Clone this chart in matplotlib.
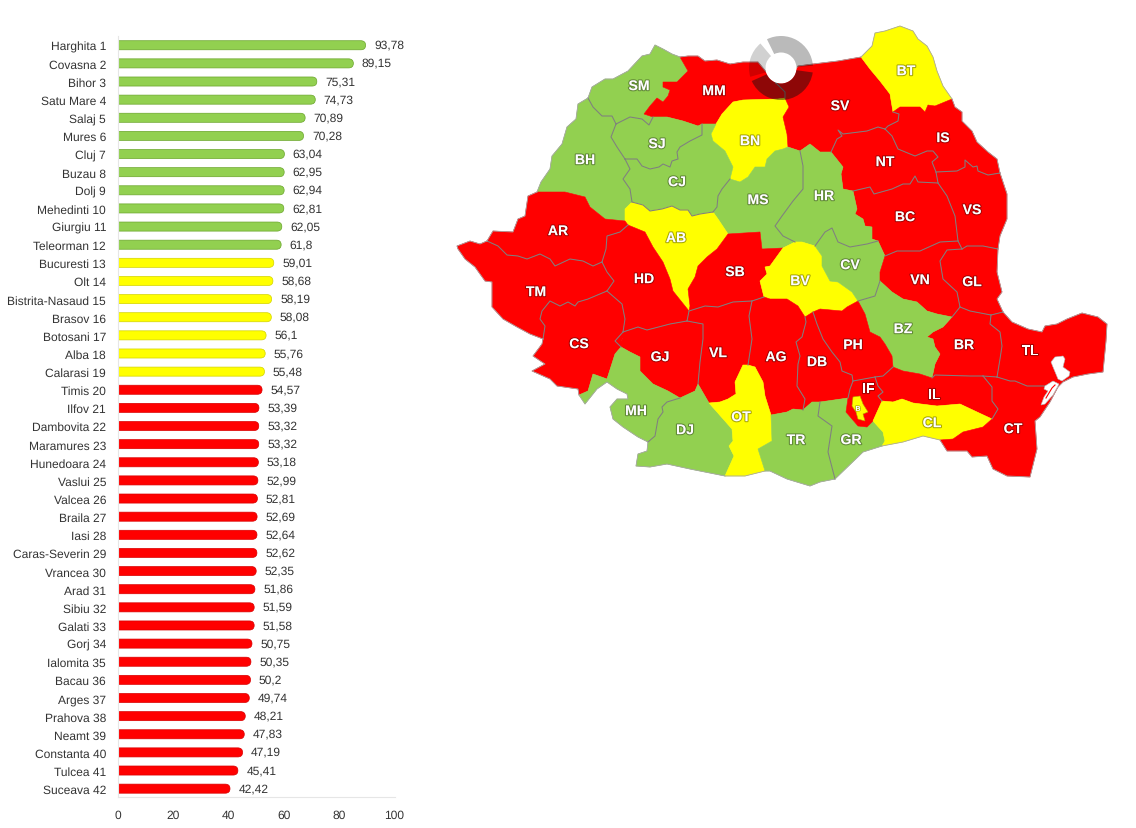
import numpy as np
import matplotlib.pyplot as plt
import matplotlib.patheffects as pe
from matplotlib.patches import Circle, PathPatch, Polygon, Wedge
from matplotlib.path import Path

plt.rcParams['font.family'] = ['Liberation Sans', 'DejaVu Sans']
plt.rcParams['text.hinting'] = 'no_hinting'

W, H = 1136, 829

# ranking
counties = ['Harghita', 'Covasna', 'Bihor', 'Satu Mare', 'Salaj', 'Mures', 'Cluj', 'Buzau', 'Dolj',
            'Mehedinti', 'Giurgiu', 'Teleorman', 'Bucuresti', 'Olt', 'Bistrita-Nasaud', 'Brasov',
            'Botosani', 'Alba', 'Calarasi', 'Timis', 'Ilfov', 'Dambovita', 'Maramures', 'Hunedoara',
            'Vaslui', 'Valcea', 'Braila', 'Iasi', 'Caras-Severin', 'Vrancea', 'Arad', 'Sibiu', 'Galati',
            'Gorj', 'Ialomita', 'Bacau', 'Arges', 'Prahova', 'Neamt', 'Constanta', 'Tulcea', 'Suceava']
scores = [93.78, 89.15, 75.31, 74.73, 70.89, 70.28, 63.04, 62.95, 62.94, 62.81, 62.05, 61.8,
          59.01, 58.68, 58.19, 58.08, 56.1, 55.76, 55.48, 54.57, 53.39, 53.32, 53.32, 53.18,
          52.99, 52.81, 52.69, 52.64, 52.62, 52.35, 51.86, 51.59, 51.58, 50.75, 50.35, 50.2,
          49.74, 48.21, 47.83, 47.19, 45.41, 42.42]
tick_values = [0, 20, 40, 60, 80, 100]

GREEN, YELLOW, RED = '#92d050', '#ffff00', '#ff0000'
bar_edges = {GREEN: '#6aa52a', YELLOW: '#d2d200', RED: '#d80000'}

# county codes per map colour
green_codes = ['SM', 'BH', 'SJ', 'CJ', 'MS', 'HR', 'CV', 'BZ', 'MH', 'DJ', 'TR', 'GR']
yellow_codes = ['BT', 'BN', 'AB', 'BV', 'OT', 'CL']
red_codes = ['MM', 'SV', 'IS', 'NT', 'BC', 'VS', 'AR', 'TM', 'HD', 'SB', 'CS', 'GJ', 'VL', 'AG', 'DB',
             'PH', 'VN', 'GL', 'BR', 'TL', 'IF', 'IL', 'CT']

# county borders, each one stored once and shared by its two neighbours (o_ = outer frontier)
borders = dict(
    o_sm=[(588, 99), (592, 88), (605, 80), (613, 80), (628, 72), (642, 57), (650, 55), (655, 46), (663, 50), (672, 55), (680, 58)],
    sm_mm=[(680, 58), (688, 72), (683, 77), (677, 83), (663, 83), (663, 88), (670, 91), (668, 97), (663, 103), (657, 99), (650, 107), (644, 115), (653, 118)],
    sm_sj=[(616, 125), (630, 118), (642, 120), (649, 126), (653, 118)],
    sm_bh=[(588, 99), (593, 108), (602, 117), (612, 117), (616, 125)],
    o_mm=[(680, 58), (688, 57), (698, 57), (705, 62), (717, 61), (730, 65), (743, 63), (758, 63), (768, 75), (776, 84)],
    mm_sv=[(776, 84), (785, 93), (785, 99)],
    mm_bn=[(785, 99), (778, 100), (743, 101), (733, 103), (722, 115), (716, 125)],
    mm_cj=[(716, 125), (702, 125)],
    mm_sj=[(702, 125), (698, 127), (683, 122), (667, 118), (653, 118)],
    bn_sv=[(785, 99), (789, 108), (783, 118), (787, 135), (788, 148)],
    bn_ms=[(788, 148), (783, 150), (775, 152), (767, 160), (765, 168), (755, 168), (748, 178), (740, 183), (730, 180)],
    bn_cj=[(730, 180), (733, 168), (729, 160), (725, 152), (713, 142), (711, 135), (716, 125)],
    o_sv=[(776, 84), (790, 78), (798, 67), (813, 65), (838, 62), (861, 58)],
    sv_bt=[(861, 58), (870, 70), (880, 82), (890, 95), (892, 107), (893, 113)],
    sv_is=[(893, 113), (899, 115), (898, 122), (888, 127), (885, 130)],
    sv_nt=[(885, 130), (878, 128), (867, 132), (843, 135), (838, 131), (842, 137), (837, 140), (831, 153)],
    sv_hr=[(831, 153), (820, 153), (810, 145), (800, 152)],
    sv_ms=[(800, 152), (788, 148)],
    o_bt=[(861, 58), (872, 47), (875, 34), (885, 32), (900, 27), (913, 32), (918, 40), (927, 47), (933, 58), (937, 72), (943, 87), (952, 100)],
    bt_is=[(952, 100), (935, 107), (928, 106), (925, 113), (920, 108), (900, 108), (893, 113)],
    o_is=[(952, 100), (955, 108), (962, 113), (962, 122), (972, 132), (977, 143), (988, 153), (997, 160), (1000, 174)],
    is_vs=[(1000, 174), (988, 176), (978, 172), (977, 167), (973, 168), (965, 161), (965, 168), (957, 172), (936, 173)],
    is_nt=[(936, 173), (932, 163), (938, 158), (933, 152), (927, 152), (915, 157), (898, 150), (892, 137), (885, 130)],
    nt_vs=[(936, 173), (938, 184)],
    nt_bc=[(938, 184), (918, 183), (915, 177), (910, 185), (903, 185), (892, 190), (874, 195), (870, 188), (853, 192)],
    nt_hr=[(853, 192), (843, 190), (841, 175), (843, 168), (831, 153)],
    o_vs=[(1000, 174), (1007, 195), (1007, 220), (1000, 237), (998, 250)],
    vs_gl=[(998, 250), (983, 247), (967, 247), (962, 250)],
    vs_vn=[(962, 250), (958, 242)],
    vs_bc=[(958, 242), (955, 217), (947, 197), (938, 184)],
    bc_vn=[(958, 242), (940, 243), (920, 252), (897, 252), (885, 257)],
    bc_cv=[(885, 257), (878, 242)],
    bc_hr=[(878, 242), (872, 240), (872, 228), (865, 227), (863, 220), (855, 215), (857, 210), (853, 192)],
    hr_cv=[(878, 242), (867, 245), (850, 248), (838, 243), (832, 229), (825, 233), (815, 247)],
    hr_bv=[(815, 247), (802, 243), (795, 243)],
    hr_ms=[(795, 243), (783, 237), (775, 227), (782, 217), (793, 202), (803, 190), (803, 167), (800, 152)],
    ms_bv=[(795, 243), (783, 249)],
    ms_sb=[(783, 249), (762, 250), (760, 233), (728, 235)],
    ms_ab=[(728, 235), (718, 220), (713, 213)],
    ms_cj=[(713, 213), (717, 208), (718, 197), (722, 190), (730, 180)],
    cj_ab=[(713, 213), (700, 215), (692, 217), (688, 211), (680, 211), (672, 207), (662, 210), (650, 212), (643, 206), (632, 203)],
    cj_bh=[(632, 203), (630, 190), (623, 180), (630, 170), (625, 160)],
    cj_sj=[(625, 160), (637, 160), (642, 167), (650, 170), (659, 168), (663, 165), (670, 168), (672, 162), (678, 160), (677, 153), (680, 148), (690, 142), (702, 136), (702, 125)],
    sj_bh=[(625, 160), (617, 148), (611, 138), (616, 125)],
    bh_ab=[(632, 203), (625, 210), (625, 222)],
    bh_ar=[(625, 222), (605, 220), (590, 208), (585, 198), (565, 193), (537, 193)],
    o_bh=[(537, 193), (541, 183), (550, 170), (552, 157), (562, 145), (567, 128), (576, 120), (578, 105), (588, 99)],
    ab_sb=[(728, 235), (717, 250), (707, 258), (698, 267), (695, 278), (688, 290), (690, 307), (689, 312)],
    ab_hd=[(689, 312), (673, 292), (670, 280), (663, 263), (653, 248), (645, 233), (628, 226)],
    ab_ar=[(628, 226), (625, 222)],
    ar_hd=[(628, 226), (620, 233), (607, 237), (606, 250), (602, 263)],
    ar_tm=[(602, 263), (593, 267), (583, 262), (570, 260), (555, 267), (550, 260), (540, 255), (527, 260), (518, 257), (507, 256), (498, 247), (487, 242)],
    o_ar=[(487, 242), (493, 232), (513, 233), (518, 220), (525, 217), (528, 197), (537, 193)],
    hd_vl=[(689, 312), (687, 322)],
    hd_gj=[(687, 322), (670, 325), (647, 331), (638, 328), (623, 333)],
    hd_cs=[(623, 333), (625, 320), (622, 305), (607, 292)],
    hd_tm=[(607, 292), (614, 282), (607, 273), (602, 263)],
    sb_bv=[(783, 249), (770, 267), (765, 268), (767, 275), (760, 282), (764, 298)],
    sb_ag=[(764, 298), (752, 302)],
    sb_vl=[(752, 302), (733, 303), (718, 308), (705, 307), (689, 312)],
    bv_cv=[(815, 247), (822, 257), (822, 267), (830, 282), (838, 283), (852, 293), (858, 302)],
    bv_ph=[(858, 302), (847, 308), (842, 312), (820, 310), (813, 313)],
    bv_db=[(813, 313), (805, 318)],
    bv_ag=[(805, 318), (798, 307), (787, 300), (770, 300), (764, 298)],
    cv_vn=[(885, 257), (880, 273), (880, 282)],
    cv_bz=[(880, 282), (875, 297), (858, 302)],
    vn_gl=[(962, 250), (947, 251), (940, 262), (943, 280), (957, 293), (960, 308)],
    vn_br=[(960, 308), (952, 318)],
    vn_bz=[(952, 318), (937, 315), (927, 312), (917, 303), (903, 300), (892, 293), (880, 282)],
    o_gl=[(998, 250), (997, 273), (1002, 293), (997, 300), (1003, 313)],
    gl_tl=[(1003, 313), (991, 316)],
    gl_br=[(991, 316), (970, 312), (960, 308)],
    br_tl=[(991, 316), (990, 325), (1000, 333), (1002, 347), (1000, 360), (997, 378)],
    br_ct=[(997, 378), (983, 377)],
    br_il=[(983, 377), (970, 377), (935, 376), (932, 379)],
    br_bz=[(932, 379), (935, 365), (940, 355), (935, 348), (933, 340), (927, 338), (933, 333), (943, 328), (952, 318)],
    o_tl=[(1003, 313), (1012, 323), (1028, 330), (1042, 333), (1045, 327), (1057, 325), (1067, 320), (1082, 314), (1098, 318), (1107, 325), (1106, 342), (1103, 373), (1088, 375), (1073, 378), (1063, 383), (1058, 388), (1047, 387)],
    tl_ct=[(1047, 387), (1027, 387), (1015, 382), (1010, 382), (997, 378)],
    o_ct=[(1047, 387), (1058, 388), (1050, 403), (1040, 418), (1035, 422), (1037, 450), (1030, 478), (1007, 477), (993, 470), (987, 457), (972, 458), (967, 452), (947, 452), (940, 441)],
    cl_ct=[(992, 420), (983, 428), (963, 433), (953, 440), (940, 441)],
    il_ct=[(983, 377), (992, 388), (992, 402), (998, 410), (992, 420)],
    il_cl=[(992, 420), (977, 413), (960, 405), (937, 407), (913, 404), (902, 400), (893, 403), (882, 402)],
    o_cl=[(940, 441), (923, 437), (903, 443), (882, 447)],
    gr_cl=[(873, 422), (883, 433), (885, 442), (882, 447)],
    if_cl=[(882, 402), (873, 422)],
    if_il=[(875, 378), (878, 387), (883, 393), (878, 397), (882, 402)],
    gr_if=[(848, 399), (846, 413), (858, 427), (867, 428), (873, 422)],
    ph_il=[(893, 368), (883, 377), (875, 378)],
    ph_if=[(875, 378), (853, 382)],
    ph_db=[(853, 382), (852, 376), (842, 372), (840, 363), (832, 353), (823, 340), (817, 325), (813, 313)],
    bz_il=[(932, 379), (920, 375), (903, 372), (893, 368)],
    bz_ph=[(893, 368), (892, 357), (885, 345), (880, 338), (870, 333), (865, 315), (858, 302)],
    db_if=[(853, 382), (850, 390), (848, 399)],
    db_gr=[(848, 399), (820, 403)],
    db_tr=[(820, 403), (812, 403), (803, 411)],
    db_ag=[(803, 411), (805, 400), (797, 387), (798, 365), (800, 357), (796, 343), (802, 338), (806, 323), (805, 318)],
    ag_tr=[(803, 411), (793, 410), (787, 413), (771, 416)],
    ag_ot=[(771, 416), (765, 397), (763, 383), (755, 368), (748, 366)],
    ag_vl=[(748, 366), (752, 340), (749, 317), (752, 302)],
    vl_ot=[(748, 366), (743, 366), (735, 383), (736, 395), (728, 400), (720, 403), (709, 404)],
    vl_dj=[(709, 404), (698, 385)],
    vl_gj=[(698, 385), (700, 363), (703, 340), (703, 325), (687, 322)],
    gj_dj=[(698, 385), (695, 392), (680, 399)],
    gj_mh=[(680, 399), (668, 392), (653, 385), (640, 372), (640, 358), (630, 353), (621, 348)],
    gj_cs=[(621, 348), (615, 342), (623, 333)],
    cs_tm=[(607, 292), (588, 300), (578, 303), (575, 307), (568, 303), (560, 307), (550, 302), (542, 312), (540, 320), (545, 327), (543, 340)],
    o_tm=[(487, 242), (480, 245), (470, 242), (457, 247), (458, 250), (465, 260), (475, 268), (485, 282), (492, 283), (492, 308), (503, 320), (517, 328), (530, 335), (543, 340)],
    o_cs=[(543, 340), (542, 345), (533, 357), (545, 365), (532, 372), (550, 380), (557, 387), (578, 390), (579, 396)],
    cs_mh=[(579, 396), (588, 392), (593, 375), (607, 380), (615, 355), (621, 348)],
    o_mh=[(648, 443), (638, 438), (623, 428), (613, 420), (610, 408), (617, 400), (628, 400), (627, 395), (617, 390), (607, 383), (597, 390), (585, 405), (579, 396)],
    mh_dj=[(680, 399), (667, 403), (662, 408), (663, 413), (658, 420), (655, 437), (648, 443)],
    o_dj=[(725, 477), (690, 470), (667, 465), (650, 468), (636, 467), (638, 455), (647, 452), (648, 443)],
    dj_ot=[(709, 404), (717, 413), (732, 430), (733, 442), (729, 447), (734, 457), (725, 477)],
    o_ot=[(765, 472), (745, 477), (725, 477)],
    ot_tr=[(771, 416), (772, 442), (758, 450), (765, 472)],
    o_tr=[(835, 480), (820, 483), (810, 487), (787, 480), (770, 472), (765, 472)],
    tr_gr=[(820, 403), (818, 417), (832, 427), (828, 453), (835, 480)],
    o_gr=[(882, 447), (863, 453), (835, 480)],
)

# a leading minus walks the border backwards
county_rings = dict(
    SM='o_sm sm_mm -sm_sj -sm_bh',
    MM='o_mm mm_sv mm_bn mm_cj mm_sj -sm_mm',
    BN='-mm_bn bn_sv bn_ms bn_cj',
    SV='o_sv sv_bt sv_is sv_nt sv_hr sv_ms -bn_sv -mm_sv',
    BT='o_bt bt_is -sv_bt',
    IS='o_is is_vs is_nt -sv_is -bt_is',
    NT='-is_nt nt_vs nt_bc nt_hr -sv_nt',
    VS='o_vs vs_gl vs_vn vs_bc -nt_vs -is_vs',
    BC='-vs_bc bc_vn bc_cv bc_hr -nt_bc',
    HR='-sv_hr -nt_hr -bc_hr hr_cv hr_bv hr_ms',
    MS='-sv_ms -hr_ms ms_bv ms_sb ms_ab ms_cj -bn_ms',
    CJ='-mm_cj -bn_cj -ms_cj cj_ab cj_bh cj_sj',
    SJ='-mm_sj -cj_sj sj_bh sm_sj',
    BH='sm_bh -sj_bh -cj_bh bh_ab bh_ar o_bh',
    AB='-cj_ab -ms_ab ab_sb ab_hd ab_ar -bh_ab',
    AR='-bh_ar -ab_ar ar_hd ar_tm o_ar',
    HD='-ab_hd hd_vl hd_gj hd_cs hd_tm -ar_hd',
    SB='-ms_sb sb_bv sb_ag sb_vl -ab_sb',
    BV='-ms_bv -hr_bv bv_cv bv_ph bv_db bv_ag -sb_bv',
    CV='-hr_cv -bc_cv cv_vn cv_bz -bv_cv',
    VN='-bc_vn -vs_vn vn_gl vn_br vn_bz -cv_vn',
    GL='-vs_gl o_gl gl_tl gl_br -vn_gl',
    BR='-vn_br -gl_br br_tl br_ct br_il br_bz',
    TL='-gl_tl o_tl tl_ct -br_tl',
    BZ='-vn_bz -br_bz bz_il bz_ph -cv_bz',
    PH='-bv_ph -bz_ph ph_il ph_if ph_db',
    DB='-bv_db -ph_db db_if db_gr db_tr db_ag',
    AG='-bv_ag -db_ag ag_tr ag_ot ag_vl -sb_ag',
    VL='-sb_vl -ag_vl vl_ot vl_dj vl_gj -hd_vl',
    GJ='-gj_cs -hd_gj -vl_gj gj_dj gj_mh',
    CS='hd_cs cs_tm o_cs cs_mh gj_cs',
    TM='hd_tm ar_tm o_tm -cs_tm',
    MH='-gj_mh mh_dj o_mh cs_mh',
    DJ='-gj_dj -vl_dj dj_ot o_dj -mh_dj',
    OT='-vl_ot -ag_ot ot_tr o_ot -dj_ot',
    TR='-ag_tr -db_tr tr_gr o_tr -ot_tr',
    GR='-db_gr gr_if gr_cl o_gr -tr_gr',
    IF='-ph_if if_il if_cl -gr_if -db_if',
    IL='-ph_il -bz_il -br_il il_ct il_cl -if_il',
    CL='-il_cl cl_ct o_cl -gr_cl -if_cl',
    CT='-il_ct -br_ct -tl_ct o_ct -cl_ct',
)

bucharest = [(853, 398), (860, 397), (863, 405), (868, 413), (863, 415), (865, 422), (858, 420), (856, 413), (852, 407)]
lake_razim = [(1051, 363), (1055, 358), (1063, 357), (1065, 360), (1063, 368), (1070, 373), (1069, 377), (1062, 382), (1058, 380), (1053, 368)]
lake_sinoe = [(1045, 387), (1053, 382), (1059, 385), (1053, 396), (1045, 405), (1041, 406), (1044, 398), (1048, 392), (1044, 390)]
sinoe_bar = [(1046, 399), (1052, 389), (1055, 386)]

map_labels = dict(
    SM=(639, 86), MM=(714, 91), BT=(906, 71), BN=(750, 141), SV=(840, 106), IS=(943, 138), SJ=(657, 144),
    BH=(585, 160), NT=(885, 162), CJ=(677, 182), MS=(758, 200), HR=(824, 196), BC=(905, 217), VS=(972, 210),
    AB=(676, 238), AR=(558, 231), SB=(735, 272), CV=(850, 265), HD=(644, 279), BV=(800, 281), VN=(920, 280),
    GL=(972, 282), TM=(536, 292), BZ=(903, 329), CS=(579, 344), PH=(853, 345), BR=(964, 345), TL=(1030, 351),
    GJ=(660, 357), VL=(718, 353), AG=(776, 357), DB=(817, 362), IF=(868, 389), IL=(934, 395), MH=(636, 411),
    OT=(741, 417), CL=(932, 423), CT=(1013, 429), DJ=(685, 430), TR=(796, 440), GR=(851, 440),
)

code_colour = {}
for codes, colour in [(green_codes, GREEN), (yellow_codes, YELLOW), (red_codes, RED)]:
    for code in codes:
        code_colour[code] = colour


def tier_colour(value):
    if value >= 60:
        return GREEN
    if value >= 55:
        return YELLOW
    return RED


def rounded_bar(value, y, height, radius):
    # square at the baseline, rounded at the value end
    top, bottom = y - height / 2, y + height / 2
    verts = [(0, top), (value - radius, top), (value, top), (value, y), (value, bottom),
             (value - radius, bottom), (0, bottom), (0, top)]
    codes = [Path.MOVETO, Path.LINETO, Path.CURVE3, Path.CURVE3, Path.CURVE3, Path.CURVE3,
             Path.LINETO, Path.CLOSEPOLY]
    return Path(verts, codes)


def ring_points(spec):
    points = []
    for name in spec.split():
        if name.startswith('-'):
            points += borders[name[1:]][::-1]
        else:
            points += borders[name]
    return points


fig = plt.figure(figsize=(W / 100, H / 100), dpi=100, facecolor='white')

# bar panel, 2.64 px per unit
ax = fig.add_axes([118 / W, 1 - 798 / H, 277 / W, 761 / H])
rows = np.arange(len(scores))
ax.set_xlim(0, 277 / 2.64)
ax.set_ylim(41.46, -0.51)
for row, score in zip(rows, scores):
    colour = tier_colour(score)
    ax.add_patch(PathPatch(rounded_bar(score, row, 0.5, 1.8), facecolor=colour,
                           edgecolor=bar_edges[colour], linewidth=0.5))
    ax.text(score + 3.2, row - 0.03, f'{score:g}'.replace('.', ','), ha='left', va='center',
            fontsize=8.64, color='#333333')

ax.set_yticks(rows, [f'{name} {rank}' for rank, name in enumerate(counties, 1)])
# the printed scale runs a little wider than the bars
ax.set_xticks(np.array(tick_values) * 2.76 / 2.64, tick_values)
ax.tick_params(axis='both', length=0, labelsize=8.64, labelcolor='#333333')
ax.tick_params(axis='y', pad=8.6)
ax.tick_params(axis='x', pad=8.5)
for side in ['top', 'right']:
    ax.spines[side].set_visible(False)
for side in ['left', 'bottom']:
    ax.spines[side].set_color('#e6e6e6')
    ax.spines[side].set_linewidth(0.8)

# county map drawn in pixel coordinates
mp = fig.add_axes([0, 0, 1, 1], facecolor='none')
mp.set_xlim(0, W)
mp.set_ylim(H, 0)
mp.axis('off')

for code, spec in county_rings.items():
    colour = code_colour[code]
    mp.add_patch(Polygon(ring_points(spec), closed=True, facecolor=colour, edgecolor=colour,
                         linewidth=0.4, zorder=2))

# grey lines only show on the frontier and between counties of one colour
for name, points in borders.items():
    left, right = name.split('_')
    xs, ys = zip(*points)
    if left == 'o':
        mp.plot(xs, ys, color='#a6a6a6', linewidth=0.6, solid_joinstyle='round', zorder=3)
    elif code_colour[left.upper()] == code_colour[right.upper()] or name == 'cj_ab':
        mp.plot(xs, ys, color='#7f7f7f', linewidth=0.75, solid_joinstyle='round', zorder=3)

mp.add_patch(Polygon(bucharest, closed=True, facecolor=YELLOW, edgecolor='#b5a800', linewidth=0.4, zorder=3))
for lake in [lake_razim, lake_sinoe]:
    mp.add_patch(Polygon(lake, closed=True, facecolor='white', edgecolor='#b8b8b8', linewidth=0.4, zorder=4))
mp.plot(*zip(*sinoe_bar), color=RED, linewidth=0.8, zorder=4)

shadow = [pe.withStroke(linewidth=1.6, foreground='#00000055')]
for code, (x, y) in map_labels.items():
    mp.text(x, y + 1.5, code, ha='center', va='center', fontsize=10.1, fontweight='bold', color='white',
            path_effects=shadow, zorder=5)
mp.text(858, 410, 'B', ha='center', va='center', fontsize=5, fontweight='bold', color='white',
        path_effects=[pe.withStroke(linewidth=1, foreground='#00000055')], zorder=5)

# spinner sitting over the northern border
centre = (781, 69)
mp.add_patch(Circle(centre, 15.5, facecolor='white', edgecolor='none', zorder=6))
for start, end, alpha, colour in [(4, 116, 0.27, 'black'), (130, 196, 0.18, 'black'), (204, 352, 0.47, '#101010')]:
    # y axis is flipped, so angles are mirrored
    mp.add_patch(Wedge(centre, 32, -end, -start, width=16.5, facecolor=colour, edgecolor='none',
                       alpha=alpha, zorder=7))

fig.savefig('out.png', dpi=100)
